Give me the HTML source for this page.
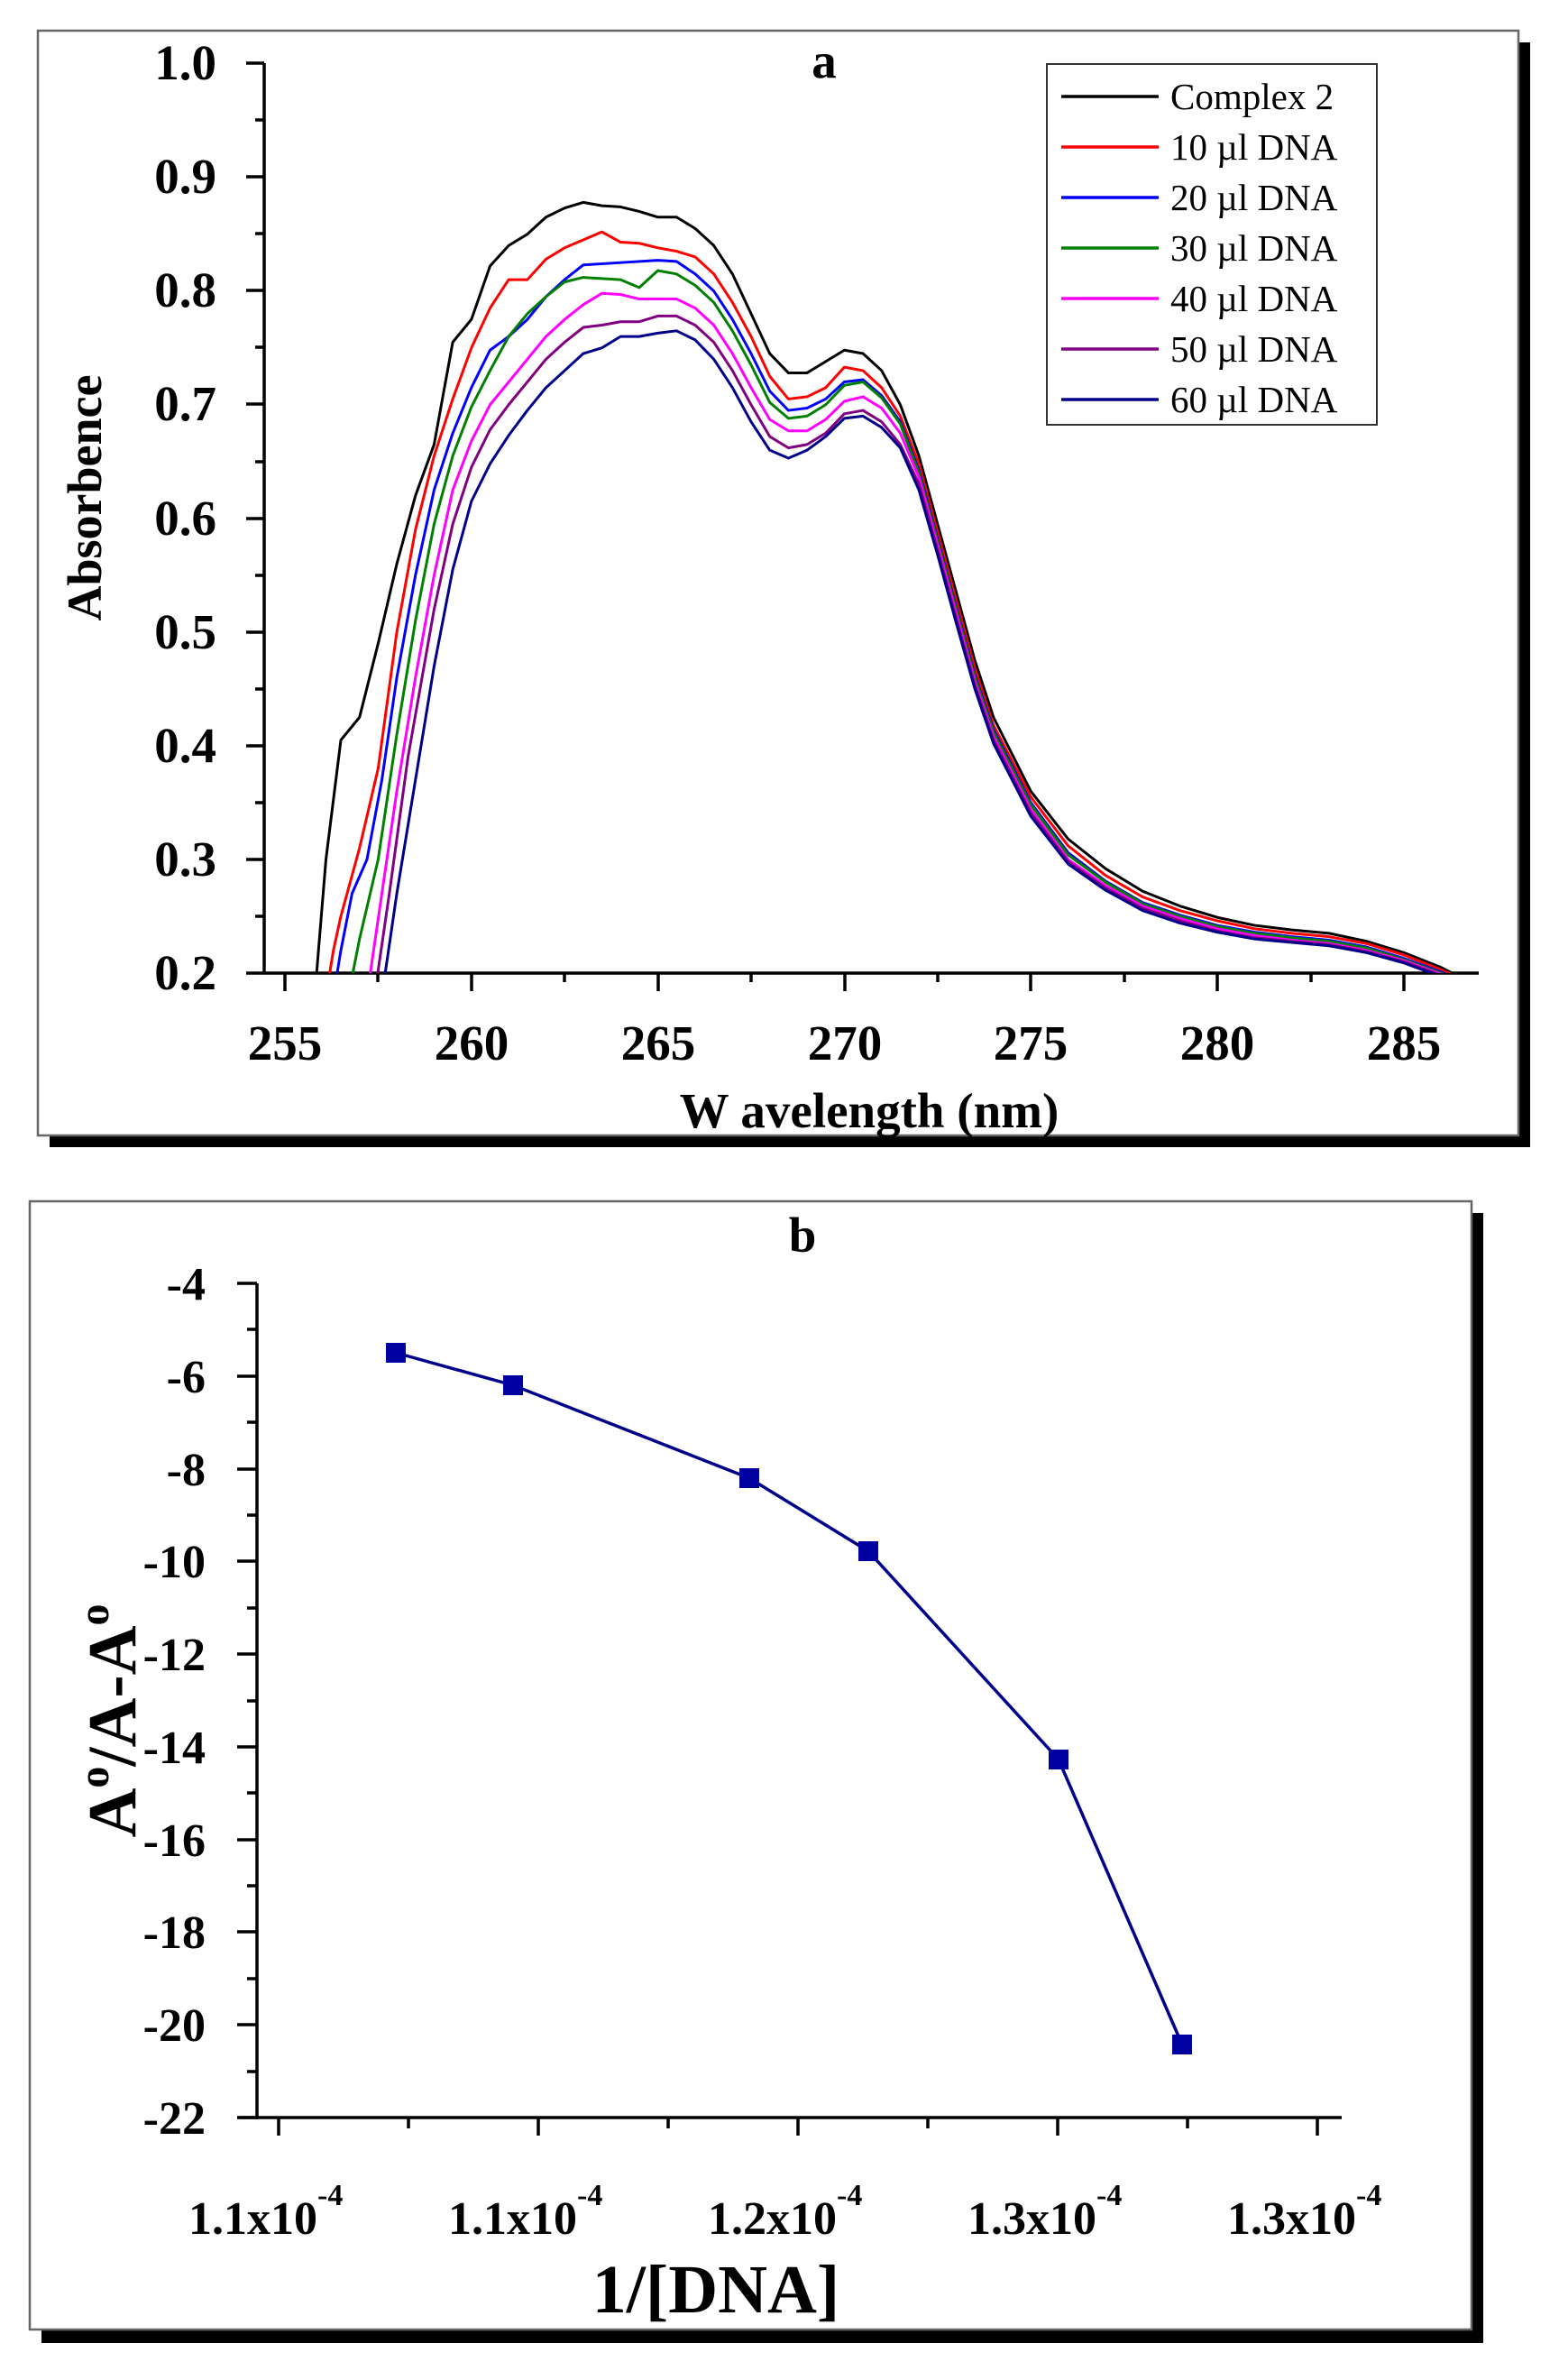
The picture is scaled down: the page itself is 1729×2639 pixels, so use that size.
<!DOCTYPE html>
<html><head><meta charset="utf-8"><style>
html,body{margin:0;padding:0;background:#fff;}
svg{display:block;}
text{font-family:"Liberation Serif",serif;font-weight:bold;fill:#000;}
text.n{font-weight:normal;}
</style></head><body>
<svg width="1729" height="2639" viewBox="0 0 1729 2639" xmlns="http://www.w3.org/2000/svg">
<defs>
<clipPath id="ca"><rect x="294" y="60" width="1350" height="1019"/></clipPath>
</defs>
<rect x="55" y="47" width="1642" height="1225" fill="#000"/>
<rect x="42" y="34" width="1642" height="1225" fill="#fff" stroke="#666" stroke-width="2.5"/>
<rect x="46" y="1345" width="1599" height="1253" fill="#000"/>
<rect x="33" y="1332" width="1599" height="1251" fill="#fff" stroke="#666" stroke-width="2.5"/>

<g stroke="#000" stroke-width="3.5" fill="none">
<line x1="293" y1="70" x2="293" y2="1080"/>
<line x1="273" y1="1079" x2="1640" y2="1079"/>
<path d="M273 70h20M273 196h20M273 322h20M273 448h20M273 575h20M273 701h20M273 827h20M273 953h20M283 133h10M283 259h10M283 385h10M283 512h10M283 638h10M283 764h10M283 890h10M283 1016h10"/>
<path d="M316 1079v20M523 1079v20M730 1079v20M937 1079v20M1143 1079v20M1350 1079v20M1557 1079v20M419 1079v10M626 1079v10M833 1079v10M1040 1079v10M1247 1079v10M1454 1079v10"/>
</g>
<g font-size="55" text-anchor="end">
<text x="240" y="88">1.0</text><text x="240" y="214">0.9</text><text x="240" y="340">0.8</text><text x="240" y="466">0.7</text><text x="240" y="593">0.6</text><text x="240" y="719">0.5</text><text x="240" y="845">0.4</text><text x="240" y="971">0.3</text><text x="240" y="1097">0.2</text>
</g>
<g font-size="55" text-anchor="middle">
<text x="316" y="1175">255</text><text x="523" y="1175">260</text><text x="730" y="1175">265</text><text x="937" y="1175">270</text><text x="1143" y="1175">275</text><text x="1350" y="1175">280</text><text x="1557" y="1175">285</text>
</g>
<text x="964" y="1250" font-size="55" text-anchor="middle">W avelength (nm)</text>
<text x="914" y="86" font-size="55" text-anchor="middle">a</text>
<text transform="translate(112 552) rotate(-90)" font-size="54" text-anchor="middle">Absorbence</text>

<g clip-path="url(#ca)" fill="none" stroke-width="3" stroke-linejoin="round">
<g transform="translate(316 1079) scale(41.36 -1260.5) translate(-255 -0.2)">
<polyline vector-effect="non-scaling-stroke" stroke="#000" points="255.8,0.18 256.1,0.3 256.5,0.405 257,0.425 257.5,0.49 258,0.56 258.5,0.62 259,0.665 259.5,0.755 260,0.775 260.5,0.822 261,0.84 261.5,0.85 262,0.865 262.5,0.873 263,0.878 263.5,0.875 264,0.874 264.5,0.87 265,0.865 265.5,0.865 266,0.855 266.5,0.84 267,0.815 267.5,0.78 268,0.745 268.5,0.728 269,0.728 269.5,0.738 270,0.748 270.5,0.745 271,0.73 271.5,0.7 272,0.655 272.5,0.595 273,0.535 273.5,0.475 274,0.425 275,0.36 276,0.318 277,0.292 278,0.272 279,0.259 280,0.249 281,0.242 282,0.238 283,0.235 284,0.228 285,0.218 286,0.205 286.6,0.195"/>
<polyline vector-effect="non-scaling-stroke" stroke="#f00" points="256.1,0.18 256.3,0.22 256.5,0.25 257,0.31 257.5,0.38 258,0.5 258.5,0.59 259,0.655 259.5,0.705 260,0.75 260.5,0.785 261,0.81 261.5,0.81 262,0.828 262.5,0.838 263,0.845 263.5,0.852 264,0.843 264.5,0.842 265,0.838 265.5,0.835 266,0.83 266.5,0.815 267,0.79 267.5,0.76 268,0.725 268.5,0.705 269,0.707 269.5,0.715 270,0.733 270.5,0.73 271,0.715 271.5,0.69 272,0.648 272.5,0.588 273,0.528 273.5,0.468 274,0.418 275,0.355 276,0.312 277,0.286 278,0.267 279,0.255 280,0.246 281,0.239 282,0.235 283,0.232 284,0.226 285,0.216 286,0.203 286.6,0.194"/>
<polyline vector-effect="non-scaling-stroke" stroke="#00f" points="256.3,0.18 256.5,0.22 256.8,0.27 257.2,0.3 257.6,0.37 258,0.46 258.5,0.55 259,0.625 259.5,0.675 260,0.715 260.5,0.748 261,0.76 261.5,0.775 262,0.795 262.5,0.81 263,0.823 264,0.825 265,0.827 265.5,0.826 266,0.815 266.5,0.8 267,0.775 267.5,0.745 268,0.712 268.5,0.695 269,0.697 269.5,0.705 270,0.72 270.5,0.722 271,0.708 271.5,0.685 272,0.642 272.5,0.582 273,0.522 273.5,0.462 274,0.414 275,0.35 276,0.306 277,0.281 278,0.262 279,0.251 280,0.242 281,0.236 282,0.232 283,0.229 284,0.223 285,0.213 286,0.201 286.6,0.192"/>
<polyline vector-effect="non-scaling-stroke" stroke="#008000" points="256.7,0.18 257,0.23 257.5,0.3 258,0.41 258.5,0.51 259,0.595 259.5,0.655 260,0.698 260.5,0.73 261,0.76 261.5,0.78 262,0.795 262.5,0.808 263,0.812 264,0.81 264.5,0.803 265,0.818 265.5,0.815 266,0.805 266.5,0.79 267,0.765 267.5,0.735 268,0.702 268.5,0.688 269,0.69 269.5,0.7 270,0.717 270.5,0.72 271,0.706 271.5,0.683 272,0.64 272.5,0.58 273,0.52 273.5,0.46 274,0.412 275,0.348 276,0.304 277,0.28 278,0.261 279,0.25 280,0.241 281,0.235 282,0.231 283,0.228 284,0.222 285,0.212 286,0.2 286.6,0.191"/>
<polyline vector-effect="non-scaling-stroke" stroke="#f0f" points="257.2,0.18 257.6,0.27 258,0.36 258.5,0.46 259,0.55 259.5,0.625 260,0.668 260.5,0.7 261,0.72 261.5,0.74 262,0.76 262.5,0.775 263,0.788 263.5,0.798 264,0.797 264.5,0.793 265,0.793 265.5,0.793 266,0.785 266.5,0.77 267,0.745 267.5,0.715 268,0.687 268.5,0.677 269,0.677 269.5,0.687 270,0.703 270.5,0.707 271,0.697 271.5,0.675 272,0.636 272.5,0.576 273,0.516 273.5,0.456 274,0.408 275,0.344 276,0.3 277,0.277 278,0.259 279,0.248 280,0.239 281,0.233 282,0.229 283,0.226 284,0.22 285,0.211 286,0.199 286.6,0.19"/>
<polyline vector-effect="non-scaling-stroke" stroke="#800080" points="257.4,0.18 257.8,0.27 258.3,0.39 259,0.52 259.5,0.595 260,0.645 260.5,0.678 261,0.7 261.5,0.72 262,0.74 262.5,0.755 263,0.768 263.5,0.77 264,0.773 264.5,0.773 265,0.778 265.5,0.778 266,0.77 266.5,0.755 267,0.73 267.5,0.7 268,0.672 268.5,0.662 269,0.665 269.5,0.675 270,0.692 270.5,0.695 271,0.685 271.5,0.665 272,0.63 272.5,0.572 273,0.512 273.5,0.453 274,0.405 275,0.341 276,0.298 277,0.275 278,0.257 279,0.246 280,0.237 281,0.231 282,0.228 283,0.225 284,0.219 285,0.21 286,0.198 286.6,0.189"/>
<polyline vector-effect="non-scaling-stroke" stroke="#00008b" points="257.6,0.18 258,0.27 258.5,0.37 259,0.47 259.5,0.555 260,0.615 260.5,0.648 261,0.673 261.5,0.695 262,0.715 262.5,0.73 263,0.745 263.5,0.75 264,0.76 264.5,0.76 265,0.763 265.5,0.765 266,0.757 266.5,0.74 267,0.715 267.5,0.685 268,0.66 268.5,0.653 269,0.66 269.5,0.672 270,0.688 270.5,0.69 271,0.68 271.5,0.662 272,0.625 272.5,0.568 273,0.508 273.5,0.45 274,0.402 275,0.338 276,0.296 277,0.273 278,0.255 279,0.244 280,0.236 281,0.23 282,0.227 283,0.224 284,0.218 285,0.209 286,0.197 286.6,0.188"/>
</g>
</g>

<rect x="1161" y="71" width="366" height="400" fill="#fff" stroke="#333" stroke-width="2"/>
<g stroke-width="3.5">
<line x1="1177" y1="107" x2="1285" y2="107" stroke="#000"/>
<line x1="1177" y1="163" x2="1285" y2="163" stroke="#f00"/>
<line x1="1177" y1="219" x2="1285" y2="219" stroke="#00f"/>
<line x1="1177" y1="275" x2="1285" y2="275" stroke="#008000"/>
<line x1="1177" y1="331" x2="1285" y2="331" stroke="#f0f"/>
<line x1="1177" y1="387" x2="1285" y2="387" stroke="#800080"/>
<line x1="1177" y1="443" x2="1285" y2="443" stroke="#00008b"/>
</g>
<g font-size="41">
<text class="n" x="1298" y="121">Complex 2</text>
<text class="n" x="1298" y="177">10 µl DNA</text>
<text class="n" x="1298" y="233">20 µl DNA</text>
<text class="n" x="1298" y="289">30 µl DNA</text>
<text class="n" x="1298" y="345">40 µl DNA</text>
<text class="n" x="1298" y="401">50 µl DNA</text>
<text class="n" x="1298" y="457">60 µl DNA</text>
</g>

<g stroke="#000" stroke-width="3.5" fill="none">
<line x1="285" y1="1423" x2="285" y2="2350"/>
<line x1="265" y1="2348" x2="1488" y2="2348"/>
<path d="M263 1423h22M263 1526h22M263 1629h22M263 1731h22M263 1834h22M263 1937h22M263 2040h22M263 2142h22M263 2245h22M263 2348h22M274 1474h11M274 1577h11M274 1680h11M274 1783h11M274 1886h11M274 1988h11M274 2091h11M274 2194h11M274 2297h11"/>
<path d="M309 2348v20M597 2348v20M885 2348v20M1173 2348v20M1461 2348v20M453 2348v12M741 2348v12M1029 2348v12M1317 2348v12"/>
</g>
<g font-size="52" text-anchor="end">
<text x="228" y="1441">-4</text><text x="228" y="1544">-6</text><text x="228" y="1647">-8</text><text x="228" y="1749">-10</text><text x="228" y="1852">-12</text><text x="228" y="1955">-14</text><text x="228" y="2058">-16</text><text x="228" y="2160">-18</text><text x="228" y="2263">-20</text><text x="228" y="2366">-22</text>
</g>
<g font-size="52">
<text x="209" y="2477">1.1x10<tspan font-size="34" dy="-32">-4</tspan></text>
<text x="497" y="2477">1.1x10<tspan font-size="34" dy="-32">-4</tspan></text>
<text x="785" y="2477">1.2x10<tspan font-size="34" dy="-32">-4</tspan></text>
<text x="1073" y="2477">1.3x10<tspan font-size="34" dy="-32">-4</tspan></text>
<text x="1361" y="2477">1.3x10<tspan font-size="34" dy="-32">-4</tspan></text>
</g>
<text x="794" y="2564" font-size="76" text-anchor="middle">1/[DNA]</text>
<text x="890" y="1388" font-size="55" text-anchor="middle">b</text>
<text transform="translate(150 1908) rotate(-90)" font-size="76" text-anchor="middle">A<tspan font-size="48" dy="-30">o</tspan><tspan dy="30">/A-A</tspan><tspan font-size="48" dy="-30">o</tspan></text>

<polyline fill="none" stroke="#00008b" stroke-width="3.5" points="439,1500 569,1536 831,1639 963,1720 1174,1951 1311,2267"/>
<g fill="#0000a0">
<rect x="428" y="1489" width="22" height="22"/>
<rect x="558" y="1525" width="22" height="22"/>
<rect x="820" y="1628" width="22" height="22"/>
<rect x="952" y="1709" width="22" height="22"/>
<rect x="1163" y="1940" width="22" height="22"/>
<rect x="1300" y="2256" width="22" height="22"/>
</g>
</svg>
</body></html>
